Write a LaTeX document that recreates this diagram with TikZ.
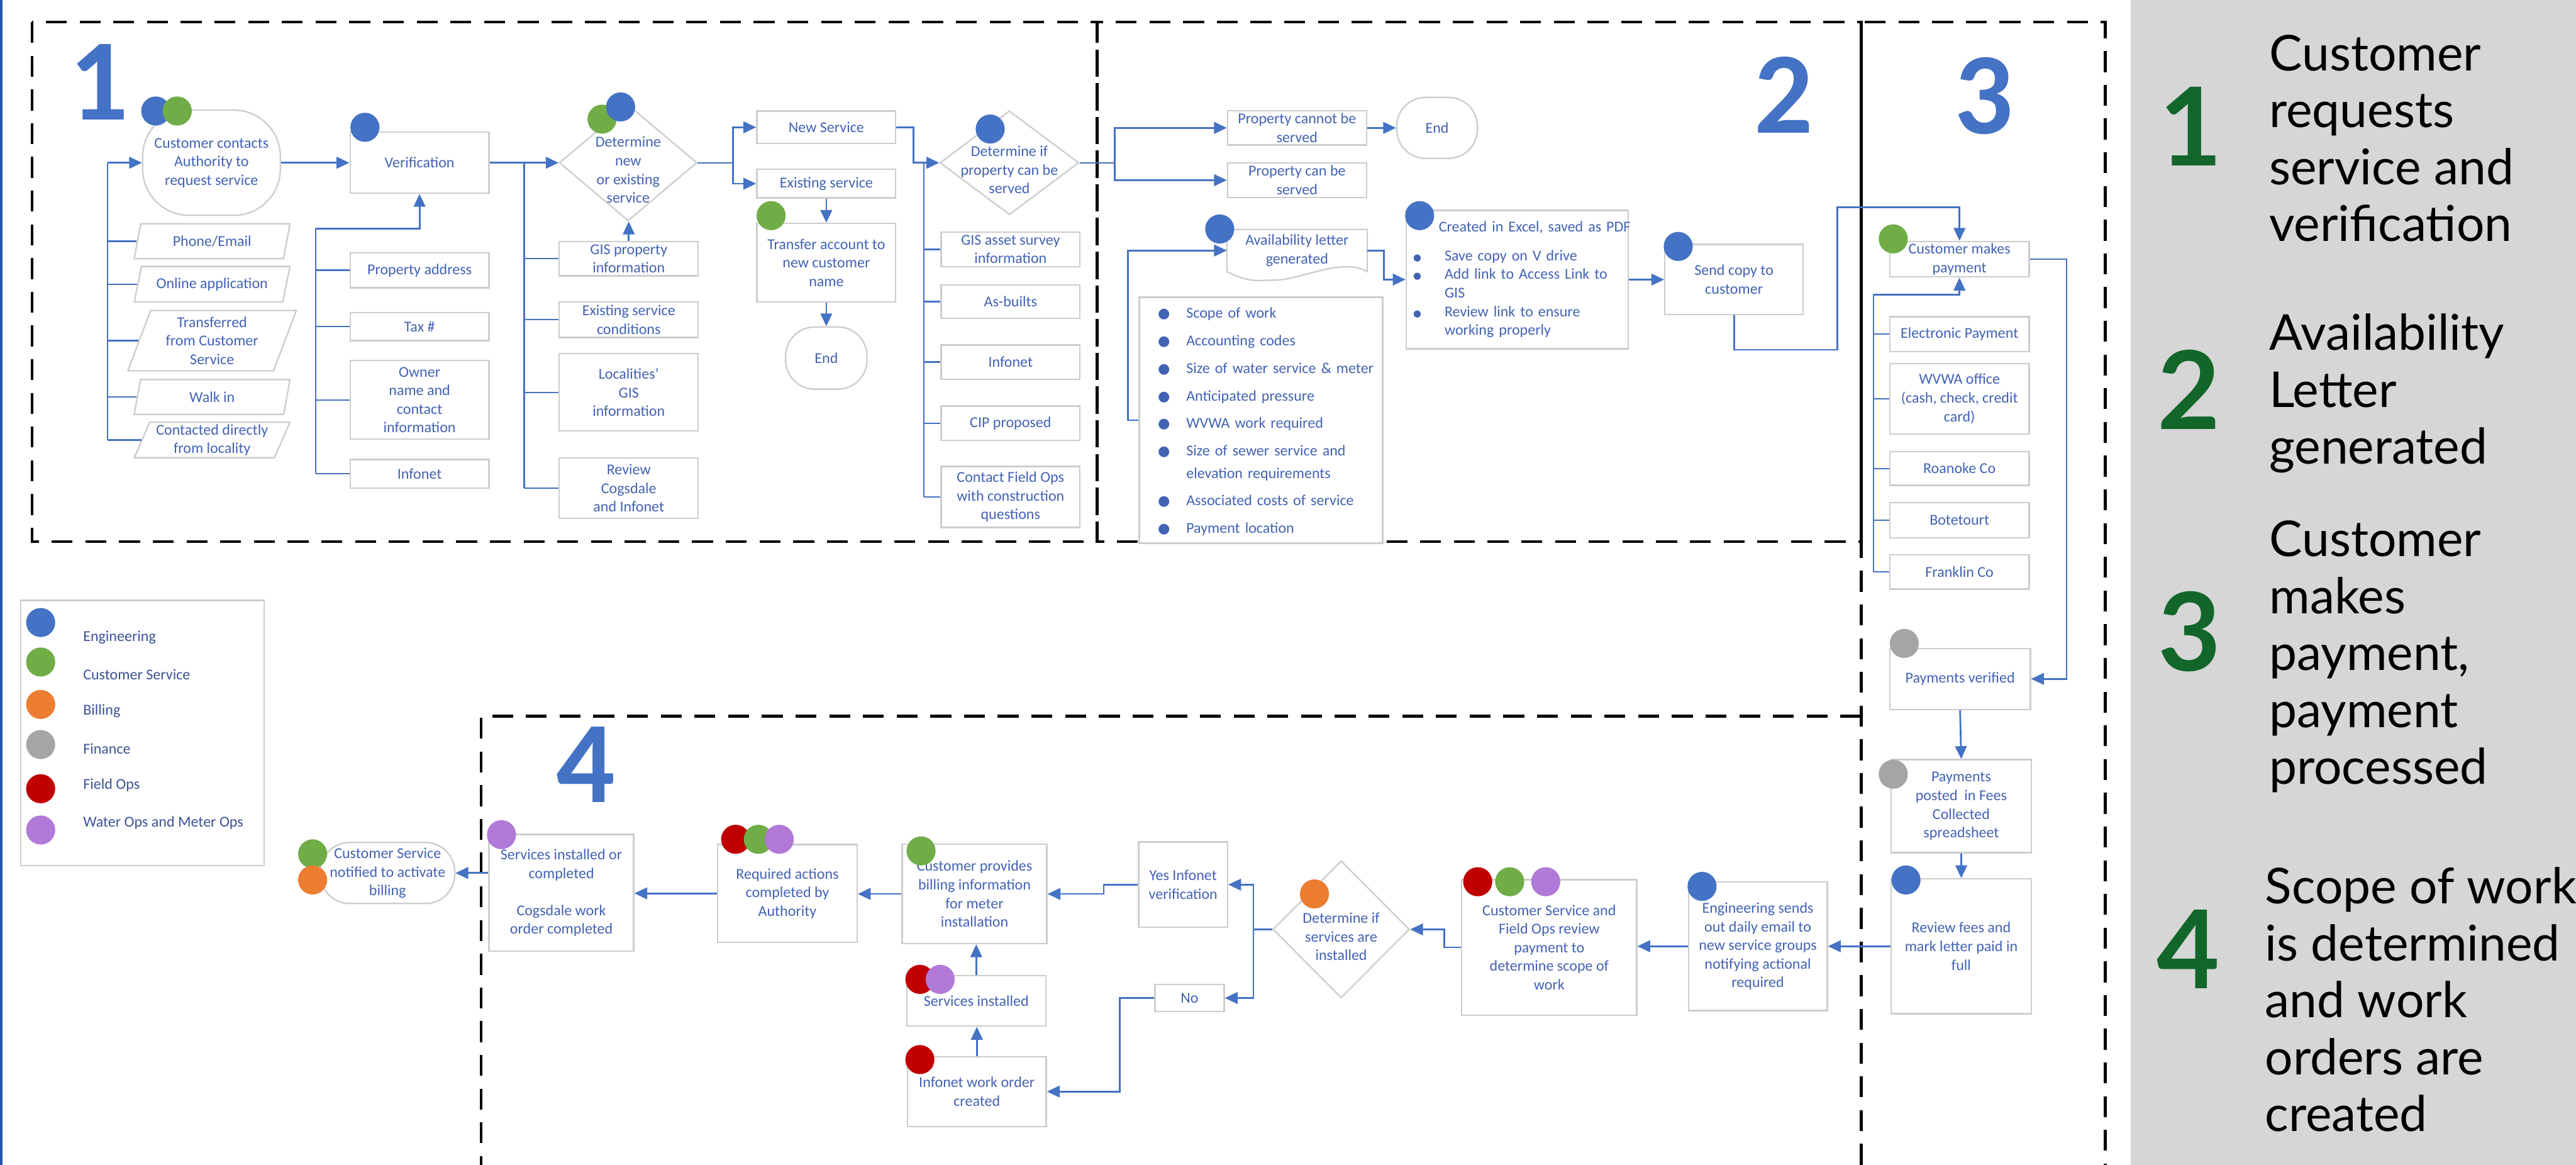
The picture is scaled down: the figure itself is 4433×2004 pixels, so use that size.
\documentclass[tikz,border=0pt]{standalone}
\usepackage{fontspec}
\setmainfont{Carlito}
\newfontfamily\latofont{Lato}
\newfontfamily\symfont{DejaVu Sans}
\usetikzlibrary{arrows.meta,shapes.geometric,positioning}

\definecolor{lineblue}{RGB}{68,114,196}
\definecolor{txtblue}{RGB}{66,98,180}
\definecolor{legblue}{RGB}{60,82,150}
\definecolor{boxgray}{RGB}{205,205,205}
\definecolor{engc}{RGB}{68,114,196}
\definecolor{csc}{RGB}{112,173,71}
\definecolor{billc}{RGB}{237,125,49}
\definecolor{finc}{RGB}{165,165,165}
\definecolor{fieldc}{RGB}{192,0,0}
\definecolor{waterc}{RGB}{177,122,216}
\definecolor{panelgray}{RGB}{214,214,214}
\definecolor{numgreen}{RGB}{18,102,42}
\definecolor{edgeblue}{RGB}{40,80,170}

% text inside the diamonds, kept from growing the shape
\newcommand\dtxt[1]{\smash{\raisebox{-21pt}{\begin{tabular}{@{}c@{}}#1\end{tabular}}}}
\newcommand\bigbul{{\symfont\fontsize{24}{24}\selectfont ●}}
\newcommand\smbul{{\symfont\fontsize{16}{16}\selectfont ●}}

\begin{document}
\begin{tikzpicture}[x=1pt,y=-1pt,
    box/.style={draw=boxgray, line width=2.5pt, fill=white, text=txtblue, align=center,
      inner sep=3pt, font=\fontsize{26}{32}\selectfont},
    term/.style={box, rounded corners=50pt},
    inbox/.style={box, trapezium, trapezium left angle=66, trapezium right angle=114,
      trapezium stretches body},
    decision/.style={draw=boxgray, line width=2.5pt, fill=white, text=txtblue, diamond,
      inner sep=0pt, font=\fontsize{26}{32}\selectfont},
    dot/.style={circle, inner sep=0pt, minimum size=50pt},
    arr/.style={draw=lineblue, line width=3pt, -{Triangle[length=22pt,width=20pt]}},
    link/.style={draw=lineblue, line width=2.5pt},
    secbox/.style={draw=black, line width=5pt, dash pattern=on 36pt off 22pt},
    bignum/.style={text=engc, inner sep=0pt, font=\fontsize{200}{200}\selectfont\bfseries},
    sidenum/.style={text=numgreen, inner sep=0pt, font=\latofont\bfseries\fontsize{187}{187}\selectfont},
    sidetext/.style={anchor=west, align=left, inner sep=0pt, font=\latofont\fontsize{85}{98}\selectfont},
    legtext/.style={text=legblue, anchor=west, inner sep=0pt, font=\fontsize{26}{32}\selectfont}]

    \useasboundingbox (0,0) rectangle (4433,2004);
    \fill[white] (0,0) rectangle (4433,2004);
    \fill[edgeblue] (0,0) rectangle (4,2004);
    \fill[panelgray] (3667,0) rectangle (4433,2004);

    % section frames
    \draw[secbox] (55,38) rectangle (1888,932);
    \draw[secbox] (1888,38) rectangle (3203,932);
    \draw[black, line width=5pt] (3203,38) -- (3203,932);
    \draw[secbox] (3203,2004) -- (3203,38) -- (3623,38) -- (3623,2004);
    \draw[secbox] (3203,1232) -- (828,1232) -- (828,2004);

    \node[bignum] (num1) at (170,141) {1};
    \node[bignum] (num2) at (3070,163) {2};
    \node[bignum] (num3) at (3414,165) {3};
    \node[bignum] (num4) at (1008,1315) {4};

    % 1: request and verification
    \node[term, rounded corners=80pt, minimum width=237, minimum height=181] (cust) at (364,280) {Customer contacts\\Authority to\\request service};
    \node[box, minimum width=239, minimum height=105] (verif) at (722,280) {Verification};
    \node[inbox, minimum width=268, minimum height=60] (ph) at (365,415) {Phone/Email};
    \node[inbox, minimum width=268, minimum height=61] (onl) at (365,489) {Online application};
    \node[inbox, minimum width=290, minimum height=104] (trf) at (365,586) {Transferred\\from Customer\\Service};
    \node[inbox, minimum width=268, minimum height=60] (walk) at (365,683) {Walk in};
    \node[inbox, minimum width=268, minimum height=61] (loc) at (365,757) {Contacted directly\\from locality};
    \node[box, minimum width=239, minimum height=60] (addr) at (722,465) {Property address};
    \node[box, minimum width=239, minimum height=48] (tax) at (722,562) {Tax \#};
    \node[box, minimum width=239, minimum height=135] (owner) at (722,688) {Owner\\name and\\contact\\information};
    \node[box, minimum width=239, minimum height=49] (infon1) at (722,815) {Infonet};
    \node[decision, minimum width=237, minimum height=200] (det1) at (1081,280) {\dtxt{Determine\\new\\or existing\\service}};
    \node[box, minimum width=239, minimum height=59] (gisp) at (1082,445) {GIS property\\information};
    \node[box, minimum width=239, minimum height=61] (exst) at (1082,550) {Existing service\\conditions};
    \node[box, minimum width=239, minimum height=133] (lgis) at (1082,675) {Localities'\\GIS\\information};
    \node[box, minimum width=239, minimum height=104] (rcog) at (1082,840) {Review\\Cogsdale\\and Infonet};
    \node[box, minimum width=239, minimum height=56] (newsvc) at (1422,219) {New Service};
    \node[box, minimum width=239, minimum height=49] (exsvc) at (1422,316) {Existing service};
    \node[box, minimum width=239, minimum height=135] (transf) at (1422,452) {Transfer account to\\new customer\\name};
    \node[term, minimum width=140, minimum height=107] (end1) at (1422,616) {End};
    \node[decision, minimum width=239, minimum height=179] (det2) at (1737,280) {\dtxt{Determine if\\property can be\\served}};
    \node[box, minimum width=239, minimum height=60] (gisa) at (1739,429) {GIS asset survey\\information};
    \node[box, minimum width=239, minimum height=58] (asb) at (1739,519) {As-builts};
    \node[box, minimum width=239, minimum height=59] (infon2) at (1739,623) {Infonet};
    \node[box, minimum width=239, minimum height=59] (cip) at (1739,728) {CIP proposed};
    \node[box, minimum width=239, minimum height=105] (cfo) at (1739,855) {Contact Field Ops\\with construction\\questions};

    \coordinate (busA) at (185,280);
    \coordinate (busB) at (543,393);
    \coordinate (busC) at (902,280);
    \coordinate (brA) at (1261,280);
    \coordinate (brB) at (1572,280);
    \coordinate (busD) at (1590,280);
    \draw[arr] (busA) -- (cust.west);
    \draw[link] (busA) -- (busA |- loc.west);
    \foreach \n in {ph,onl,trf,walk,loc} \draw[link] (busA |- \n.west) -- (\n.west);
    \draw[arr] (cust.east) -- (verif.west);
    \draw[arr] (busB) -| (verif.south);
    \draw[link] (busB) -- (busB |- infon1.west);
    \foreach \n in {addr,tax,owner,infon1} \draw[link] (busB |- \n.west) -- (\n.west);
    \draw[arr] (verif.east) -- (det1.west);
    \draw[link] (busC) -- (busC |- rcog.west);
    \foreach \n in {gisp,exst,lgis,rcog} \draw[link] (busC |- \n.west) -- (\n.west);
    \draw[arr] (gisp.north) -- (gisp.north |- det1.south);
    \draw[link] (det1.east) -- (brA);
    \draw[arr] (brA) |- (newsvc.west);
    \draw[arr] (brA) |- (exsvc.west);
    \draw[arr] (exsvc.south) -- (transf.north);
    \draw[arr] (transf.south) -- (end1.north);
    \draw[arr] (newsvc.east) -| (brB) -- (det2.west);
    \draw[link] (busD) -- (busD |- cfo.west);
    \foreach \n in {gisa,asb,infon2,cip,cfo} \draw[link] (busD |- \n.west) -- (\n.west);

    % 2: availability letter
    \node[box, minimum width=239, minimum height=59] (pcn) at (2232,220) {Property cannot be\\served};
    \node[box, minimum width=239, minimum height=60] (pcb) at (2232,310) {Property can be\\served};
    \node[term, minimum width=139, minimum height=105] (end2) at (2473,220) {End};
    \node[box, draw=none, minimum width=239, minimum height=70] (avail) at (2232,431) {Availability letter\\generated};
    \draw[draw=boxgray, line width=2.5pt] (avail.south west) -- (avail.north west) -- (avail.north east) -- (avail.south east)
      .. controls +(-45,-25) and +(45,0) .. (2193,482) .. controls +(-30,0) and +(40,20) .. (avail.south west);
    \node[box, text width=355, align=left, inner xsep=32pt, minimum height=410] (scopelist) at (2170,723) {%
      \renewcommand{\arraystretch}{1.48}%
      \begin{tabular}{@{}p{49pt}@{}l@{}}
        \bigbul & Scope of work\\
        \bigbul & Accounting codes\\
        \bigbul & Size of water service \& meter\\
        \bigbul & Anticipated pressure\\
        \bigbul & WVWA work required\\
        \bigbul & Size of sewer service and\\[-9pt]
                & elevation requirements\\
        \bigbul & Associated costs of service\\
        \bigbul & Payment location
      \end{tabular}};
    \node[box, text width=358, align=left, inner xsep=12pt, minimum height=238] (excel) at (2611,481) {%
      \begin{tabular}{@{}p{54pt}@{}l@{}}
        \multicolumn{2}{@{\hspace{44pt}}l@{}}{Created in Excel, saved as PDF}\\[18pt]
        \smbul & Save copy on V drive\\
        \smbul & Add link to Access Link to\\
               & GIS\\
        \smbul & Review link to ensure\\
               & working properly
      \end{tabular}};
    \node[box, minimum width=238, minimum height=121] (sendc) at (2984,481) {Send copy to\\customer};

    \coordinate (brC) at (1918,280);
    \coordinate (hopA) at (3162,357);
    \draw[link] (det2.east) -- (brC);
    \draw[arr] (brC) |- (pcn.west);
    \draw[arr] (brC) |- (pcb.west);
    \draw[arr] (pcn.east) -- (end2.west);
    \draw[arr] (scopelist.west) -- ++(-18,0) |- (avail.west);
    \draw[arr] (avail.east) -- ++(29,0) |- (excel.west);
    \draw[arr] (excel.east) -- (sendc.west);

    % 3: payment
    \node[box, minimum width=240, minimum height=61] (pay) at (3372,446) {Customer makes\\payment};
    \node[box, minimum width=240, minimum height=60] (elec) at (3372,575) {Electronic Payment};
    \node[box, minimum width=240, minimum height=121] (wvwa) at (3372,686) {WVWA office\\(cash, check, credit\\card)};
    \node[box, minimum width=240, minimum height=58] (roan) at (3372,806) {Roanoke Co};
    \node[box, minimum width=240, minimum height=60] (bote) at (3372,895) {Botetourt};
    \node[box, minimum width=240, minimum height=59] (frank) at (3372,984) {Franklin Co};
    \node[box, minimum width=242, minimum height=105] (pver) at (3373,1168) {Payments verified};
    \node[box, minimum width=241, minimum height=160] (ppost) at (3375,1387) {Payments\\posted\ \ in Fees\\Collected\\spreadsheet};
    \node[box, minimum width=241, minimum height=232] (revf) at (3375,1628) {Review fees and\\mark letter paid in\\full};

    \coordinate (busE) at (3224,507);
    \draw[arr] (sendc.south) -- ++(0,59) -| (hopA) -| (pay.north);
    \draw[arr] (busE) -| (pay.south);
    \draw[link] (busE) -- (busE |- frank.west);
    \foreach \n in {elec,wvwa,roan,bote,frank} \draw[link] (busE |- \n.west) -- (\n.west);
    \draw[arr] (pay.east) -- ++(63,0) |- (pver.east);
    \draw[arr] (pver.south) -- (ppost.north);
    \draw[arr] (ppost.south) -- (revf.north);

    % 4: scope of work and work orders
    \node[box, minimum width=239, minimum height=221] (engs) at (3025,1628) {Engineering sends\\out daily email to\\new service groups\\notifying actional\\required};
    \node[box, minimum width=301, minimum height=233] (csr) at (2666,1630) {Customer Service and\\Field Ops review\\payment to\\determine scope of\\work};
    \node[decision, minimum width=235, minimum height=236] (det3) at (2308,1599) {\dtxt{Determine if\\services are\\installed}};
    \node[box, minimum width=153, minimum height=147] (yes) at (2036,1522) {Yes Infonet\\verification};
    \node[box, minimum width=119, minimum height=47] (no) at (2047,1717) {No};
    \node[box, minimum width=249, minimum height=171] (billi) at (1677,1538) {Customer provides\\billing information\\for meter\\installation};
    \node[box, minimum width=239, minimum height=87] (svins) at (1680,1722) {Services installed};
    \node[box, minimum width=239, minimum height=120] (iwo) at (1681,1878) {Infonet work order\\created};
    \node[box, minimum width=240, minimum height=168] (reqa) at (1355,1537) {Required actions\\completed by\\Authority};
    \node[box, minimum width=249, minimum height=201] (svc) at (966,1536) {Services installed or\\completed\\[32pt]Cogsdale work\\order completed};
    \node[term, minimum width=231, minimum height=105] (notif) at (667,1502) {Customer Service\\notified to activate\\billing};

    \coordinate (brD) at (2157,1599);
    \draw[arr] (revf.west) -- (engs.east);
    \draw[arr] (engs.west) -- (engs.west -| csr.east);
    \draw[arr] (csr.west) -- ++(-29,0) |- (det3.east);
    \draw[link] (det3.west) -- (brD);
    \draw[arr] (brD) |- (yes.east);
    \draw[arr] (brD) |- (no.east);
    \draw[arr] (yes.west) -- ++(-59,0) |- (billi.east);
    \draw[arr] (no.west) -- ++(-59,0) |- (iwo.east);
    \draw[arr] (iwo.north) -- (iwo.north |- svins.south);
    \draw[arr] (svins.north) -- (svins.north |- billi.south);
    \draw[arr] (billi.west) -- (billi.west -| reqa.east);
    \draw[arr] (reqa.west) -- (reqa.west -| svc.east);
    \draw[arr] (svc.west |- notif.east) -- (notif.east);

    % department dots
    \foreach \c/\x/\y [count=\i] in {engc/268/191, csc/305/191, engc/628/219, csc/1036/205, engc/1068/184,
        csc/1327/371, engc/1704/222, engc/2099/394, engc/2443/371, engc/2888/424, csc/3258/411,
        finc/3277/1107, finc/3258/1332, engc/3280/1514, engc/2929/1525, fieldc/2543/1517, csc/2598/1517,
        waterc/2660/1517, billc/2262/1538, csc/1585/1464, fieldc/1583/1685, waterc/1618/1685,
        fieldc/1583/1823, fieldc/1266/1444, csc/1305/1444, waterc/1341/1444, waterc/863/1436,
        csc/538/1469, billc/538/1514}
      \node[dot, fill=\c] (dot\i) at (\x,\y) {};

    % legend
    \node[draw=boxgray, line width=2.5pt, minimum width=419, minimum height=456, inner sep=0pt] (legend) at (245,1261) {};
    \foreach \c/\t/\cy/\ty [count=\i] in {engc/Engineering/1071/1097, csc/Customer Service/1139/1161,
        billc/Billing/1212/1223, finc/Finance/1281/1288, fieldc/Field Ops/1357/1351,
        waterc/Water Ops and Meter Ops/1428/1416} {
      \node[dot, fill=\c] (legdot\i) at (70,\cy) {};
      \node[legtext] (legtxt\i) at (143,\ty) {\t};
    }

    % side panel
    \node[sidenum] (snum1) at (3770,217) {1};
    \node[sidenum] (snum2) at (3767,670) {2};
    \node[sidenum] (snum3) at (3768,1087) {3};
    \node[sidenum] (snum4) at (3766,1633) {4};
    \node[sidetext] (side1) at (3905,238) {Customer\\requests\\service and\\verification};
    \node[sidetext] (side2) at (3905,677) {Availability\\Letter\\generated};
    \node[sidetext] (side3) at (3905,1130) {Customer\\makes\\payment,\\payment\\processed};
    \node[sidetext] (side4) at (3898,1720) {Scope of work\\is determined\\and work\\orders are\\created};
\end{tikzpicture}
\end{document}
